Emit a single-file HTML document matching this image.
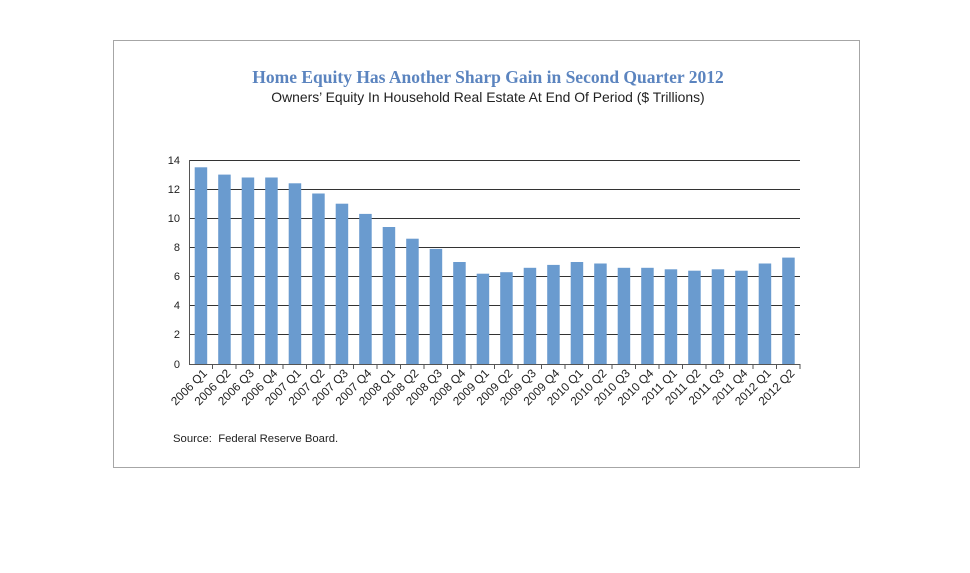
<!DOCTYPE html>
<html><head><style>
body{margin:0;background:#fff;width:970px;height:568px;overflow:hidden;font-family:"Liberation Sans",sans-serif}
</style></head><body>
<svg width="970" height="568" xmlns="http://www.w3.org/2000/svg" font-family="Liberation Sans, sans-serif">
<rect x="113.5" y="40.5" width="746" height="427" fill="#fff" stroke="#a6a6a6"/>
<text x="488" y="83" text-anchor="middle" font-family="Liberation Serif, serif" font-weight="bold" font-size="17.5" fill="#5b84bf">Home Equity Has Another Sharp Gain in Second Quarter 2012</text>
<text x="488" y="102" text-anchor="middle" font-size="13.9" fill="#222">Owners’ Equity In Household Real Estate At End Of Period ($ Trillions)</text>
<g stroke="#333" stroke-width="1">
<line x1="189" y1="160.5" x2="800" y2="160.5"/>
<line x1="189" y1="189.5" x2="800" y2="189.5"/>
<line x1="189" y1="218.5" x2="800" y2="218.5"/>
<line x1="189" y1="247.5" x2="800" y2="247.5"/>
<line x1="189" y1="276.5" x2="800" y2="276.5"/>
<line x1="189" y1="305.5" x2="800" y2="305.5"/>
<line x1="189" y1="334.5" x2="800" y2="334.5"/>
</g>
<g id="bars" fill="#6a9bcf"></g>
<g stroke="#555">
<line x1="189.5" y1="160" x2="189.5" y2="364"/>
<line x1="189" y1="364.5" x2="800" y2="364.5"/>
</g>
<g id="ticks" stroke="#555"></g>
<g font-size="11" fill="#222" text-anchor="end">
<text x="180" y="164">14</text><text x="180" y="193">12</text><text x="180" y="222">10</text>
<text x="180" y="251">8</text><text x="180" y="280">6</text><text x="180" y="309">4</text>
<text x="180" y="338">2</text><text x="180" y="368">0</text>
</g>
<g id="labels" font-size="11.8" fill="#222" text-anchor="end"></g>
<text x="173" y="442" font-size="11.3" fill="#222" xml:space="preserve">Source:  Federal Reserve Board.</text>
</svg>
<script>
var v=[13.5,13.0,12.8,12.8,12.4,11.7,11.0,10.3,9.4,8.6,7.9,7.0,6.2,6.3,6.6,6.8,7.0,6.9,6.6,6.6,6.5,6.4,6.5,6.4,6.9,7.3];
var b='',t='',l='',s=611/26;
for(var i=0;i<26;i++){var x0=189+i*s,h=v[i]*204/14;
b+='<rect x="'+(x0+5.7).toFixed(1)+'" y="'+(364-h).toFixed(1)+'" width="12.5" height="'+h.toFixed(1)+'"/>';
t+='<line x1="'+(x0+s).toFixed(1)+'" y1="364" x2="'+(x0+s).toFixed(1)+'" y2="369"/>';
var q=2006+Math.floor(i/4),c=x0+s/2+7;
l+='<text transform="translate('+c.toFixed(1)+',374) rotate(-45)">'+q+' Q'+(i%4+1)+'</text>';}
document.getElementById('bars').innerHTML=b;
document.getElementById('ticks').innerHTML=t;
document.getElementById('labels').innerHTML=l;
</script>
</body></html>
